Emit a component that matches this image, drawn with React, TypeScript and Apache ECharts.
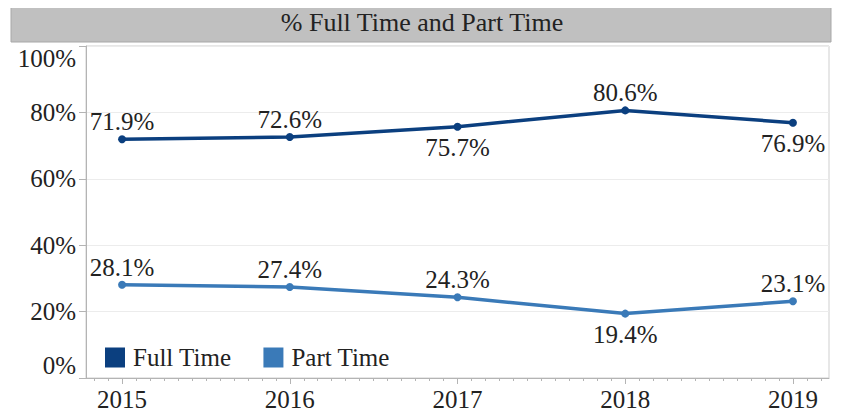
import React, { useEffect, useRef } from "react";
import * as echarts from "echarts";

const years = [2015, 2016, 2017, 2018, 2019];
const fullTime = [71.9, 72.6, 75.7, 80.6, 76.9];
const partTime = [28.1, 27.4, 24.3, 19.4, 23.1];
const fullLabelPos = ["top", "top", "bottom", "top", "bottom"];
const partLabelPos = ["top", "top", "top", "bottom", "top"];

const FONT = "Liberation Serif";
const FULL_COLOR = "#0b3f7f";
const PART_COLOR = "#3a7ab8";

export default function App() {
  const ref = useRef<HTMLDivElement>(null);
  useEffect(() => {
    if (!ref.current) return;
    const chart = echarts.init(ref.current, undefined, { renderer: "svg" });
    const minorTicks: number[] = [];
    for (let y = 2014; y <= 2019; y++) {
      for (let m = 1; m < 12; m++) {
        const v = y + m / 12;
        if (v > 2014.79 && v < 2019.21) minorTicks.push(v);
      }
    }
    const mk = (vals: number[], pos: string[]) =>
      vals.map((v, i) => ({
        value: [years[i], v],
        label: { position: pos[i], distance: pos[i] === "top" ? 1 : 4 },
      }));
    const labelCfg = {
      show: true,
      formatter: (p: any) => `${p.value[1].toFixed(1)}%`,
      fontFamily: FONT,
      fontSize: 25,
      color: "#222",
    };
    chart.setOption({
      animation: false,
      textStyle: { fontFamily: FONT },
      graphic: [
        {
          type: "rect",
          shape: { x: 11, y: 2, width: 820, height: 40 },
          style: { fill: "#c0c0c0", stroke: "#a8a8a8", lineWidth: 1 },
        },
        {
          type: "text",
          x: 422,
          y: 22,
          style: {
            text: "% Full Time and Part Time",
            fontFamily: FONT,
            fontSize: 26,
            fill: "#222",
            align: "center",
            verticalAlign: "middle",
          },
        },
        {
          type: "line",
          shape: { x1: 79, y1: 378.5, x2: 86, y2: 378.5 },
          style: { stroke: "#b4b4b4", lineWidth: 1 },
        },
      ],
      legend: {
        left: 100,
        top: 340,
        icon: "rect",
        itemWidth: 20,
        itemHeight: 20,
        itemGap: 32,
        textStyle: {
          fontFamily: FONT,
          fontSize: 25,
          color: "#222",
          padding: [0, 0, 0, 3],
        },
        data: ["Full Time", "Part Time"],
      },
      grid: {
        left: 86,
        top: 46,
        right: 15,
        bottom: 42,
        show: true,
        borderColor: "#cfcfcf",
        borderWidth: 1,
      },
      xAxis: [
        {
          type: "value",
          position: "bottom",
          min: 2014.785,
          max: 2019.215,
          splitLine: { show: false },
          axisLine: { show: true, lineStyle: { color: "#b4b4b4" } },
          axisTick: {
            show: true,
            customValues: years,
            length: 6,
            lineStyle: { color: "#b4b4b4" },
          },
          axisLabel: {
            customValues: years,
            formatter: (v: number) => String(Math.round(v)),
            fontFamily: FONT,
            fontSize: 25,
            color: "#222",
            margin: 9,
          },
        },
        {
          type: "value",
          position: "bottom",
          min: 2014.785,
          max: 2019.215,
          splitLine: { show: false },
          axisLine: { show: false },
          axisTick: {
            show: true,
            customValues: minorTicks,
            length: 3,
            lineStyle: { color: "#b4b4b4" },
          },
          axisLabel: { show: false },
        },
      ],
      yAxis: {
        type: "value",
        min: 0,
        max: 100,
        interval: 20,
        axisLine: { show: true, lineStyle: { color: "#b4b4b4" } },
        axisTick: { show: true, length: 7, lineStyle: { color: "#b4b4b4" } },
        splitLine: { show: true, lineStyle: { color: "#ececec" } },
        axisLabel: {
          formatter: (v: number) => `${v}%`,
          fontFamily: FONT,
          fontSize: 25,
          color: "#222",
          margin: 10,
          verticalAlignMinLabel: "bottom",
          verticalAlignMaxLabel: "top",
        },
      },
      series: [
        {
          name: "Full Time",
          type: "line",
          xAxisIndex: 0,
          data: mk(fullTime, fullLabelPos),
          color: FULL_COLOR,
          symbol: "circle",
          symbolSize: 8,
          lineStyle: { width: 3.5, color: FULL_COLOR },
          itemStyle: { color: FULL_COLOR },
          label: labelCfg,
        },
        {
          name: "Part Time",
          type: "line",
          xAxisIndex: 0,
          data: mk(partTime, partLabelPos),
          color: PART_COLOR,
          symbol: "circle",
          symbolSize: 8,
          lineStyle: { width: 3.5, color: PART_COLOR },
          itemStyle: { color: PART_COLOR },
          label: labelCfg,
        },
      ],
    });
    return () => chart.dispose();
  }, []);
  return <div ref={ref} style={{ width: 844, height: 420, margin: -8 }} />;
}
